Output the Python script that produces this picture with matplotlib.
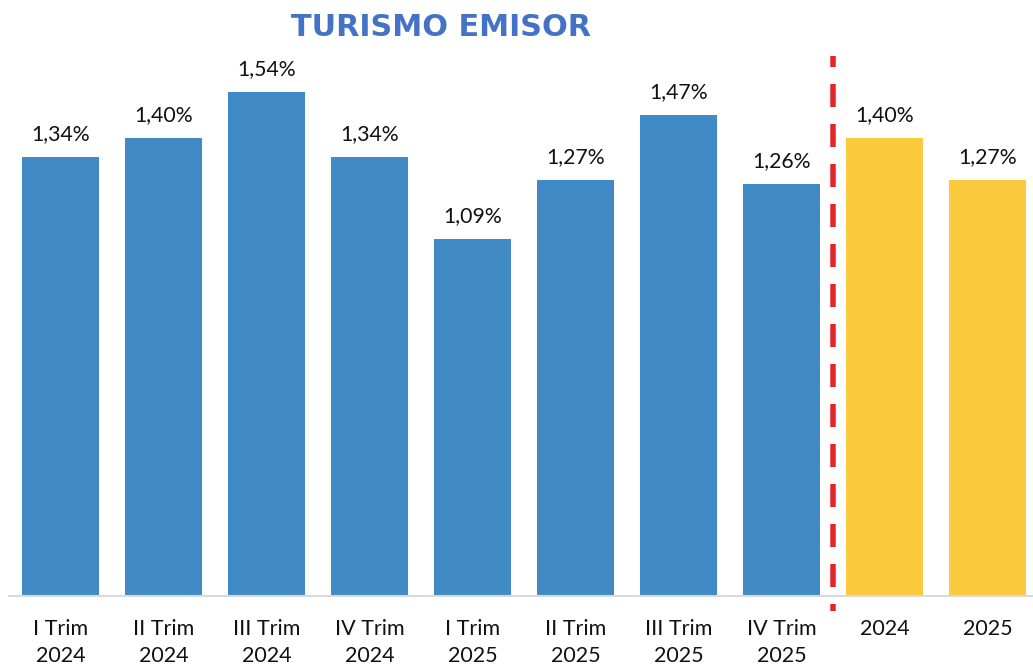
import matplotlib
matplotlib.use("Agg")
import matplotlib.pyplot as plt

categories = ["I Trim\n2024", "II Trim\n2024", "III Trim\n2024", "IV Trim\n2024",
              "I Trim\n2025", "II Trim\n2025", "III Trim\n2025", "IV Trim\n2025",
              "2024", "2025"]
values = [1.34, 1.40, 1.54, 1.34, 1.09, 1.27, 1.47, 1.26, 1.40, 1.27]
labels = ["1,34%", "1,40%", "1,54%", "1,34%", "1,09%", "1,27%", "1,47%", "1,26%", "1,40%", "1,27%"]
title = "TURISMO EMISOR"

BLUE = "#408BC5"
YELLOW = "#FACA3C"
colors = [BLUE] * 8 + [YELLOW] * 2

plt.rcParams["lines.scale_dashes"] = False

W, H = 1033, 666
fig = plt.figure(figsize=(W / 100, H / 100), dpi=100)
ax_left, ax_right = 9, 1033
ax_top, ax_bot = 56, 595.5
ax = fig.add_axes([ax_left / W, 1 - ax_bot / H, (ax_right - ax_left) / W, (ax_bot - ax_top) / H])

x = list(range(len(values)))
ax.bar(x, values, width=0.748, color=colors, zorder=2)
ax.set_xlim(-0.5, 9.442)
ax.set_ylim(0, 1.65)

font = "Lato"
for xi, v, lab in zip(x, values, labels):
    ax.annotate(lab, (xi, v), xytext=(0, 16.5), textcoords="offset points",
                ha="center", va="center", fontsize=15.3, family=font, color="#111111")

ax.set_xticks(x)
ax.set_xticklabels(categories, fontsize=15.5, family=font, color="#111111", linespacing=1.45)
ax.tick_params(axis="x", length=0, pad=17)
ax.set_yticks([])
for s in ["left", "right", "top"]:
    ax.spines[s].set_visible(False)
ax.spines["bottom"].set_color("#D9D9D9")
ax.spines["bottom"].set_linewidth(1.5)

# red dashed separator (drawn top to bottom)
px = 72 / 100
ax.plot([7.5, 7.5], [1.65, -0.0474], color="#E3262A", linewidth=5.5 * px,
        linestyle=(12 * px, (23 * px, 17 * px)), clip_on=False, zorder=3,
        dash_capstyle="butt")

fig.text(441 / W, 1 - 27 / H, title, ha="center", va="center", fontsize=21.8,
         fontweight="bold", family="DejaVu Sans", color="#4472C4")

fig.savefig("out.png", dpi=100)
